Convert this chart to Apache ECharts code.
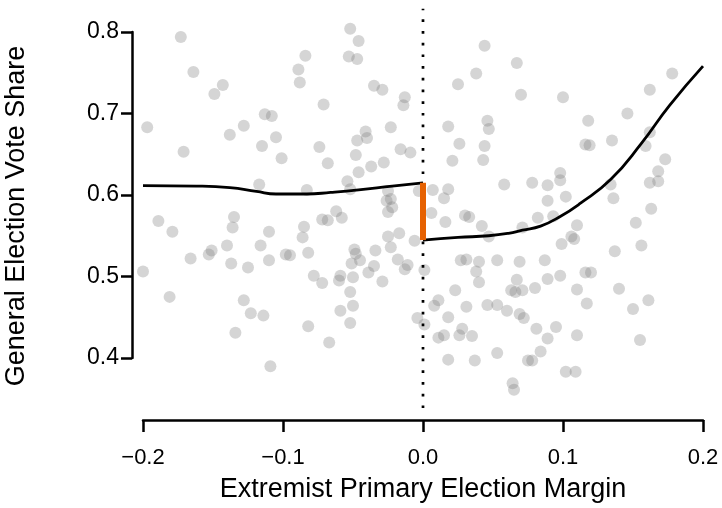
<!DOCTYPE html>
<html>
<head>
<meta charset="utf-8">
<script src="https://cdn.jsdelivr.net/npm/echarts@6/dist/echarts.min.js"></script>
<style>html,body{margin:0;padding:0;background:#fff}#c{width:722px;height:508px}</style>
</head>
<body>
<div id="c"></div>
<script>
// Scatter points (x = extremist primary margin, y = general election vote share)
var pointX = [
-0.173,-0.164,-0.143,-0.149,-0.084,-0.089,-0.088,-0.071,-0.113,-0.108,
-0.197,-0.128,-0.138,-0.105,-0.115,-0.074,-0.052,-0.046,-0.053,-0.047,
-0.035,-0.029,-0.013,-0.014,-0.023,-0.041,-0.047,-0.040,-0.016,0.044,
0.067,0.038,0.025,0.070,0.046,0.047,0.018,0.026,0.044,0.100,
0.118,0.146,0.162,0.178,0.162,0.135,0.116,0.119,0.159,-0.171,
-0.101,-0.068,-0.117,-0.083,-0.189,-0.179,-0.135,-0.136,-0.110,-0.085,
-0.086,-0.072,-0.068,-0.151,-0.153,-0.140,-0.116,-0.166,-0.137,-0.125,
-0.110,-0.098,-0.095,-0.082,-0.200,-0.048,-0.009,-0.028,-0.037,-0.046,
-0.054,-0.052,-0.025,-0.026,-0.023,-0.022,-0.025,-0.003,-0.062,-0.058,
-0.025,-0.017,-0.023,-0.006,-0.049,-0.048,-0.051,-0.045,-0.034,-0.035,
-0.018,-0.011,0.001,0.021,0.043,0.058,0.007,0.018,0.015,0.006,
0.016,0.030,0.033,0.042,0.047,0.071,0.027,0.031,0.040,0.053,
0.069,0.173,0.168,0.168,0.162,0.134,0.136,0.163,0.152,0.156,
0.137,0.098,0.098,0.078,0.089,0.102,0.089,0.082,0.093,0.110,
0.106,0.108,0.099,0.087,0.116,0.120,0.098,-0.181,-0.128,-0.123,
-0.114,-0.134,-0.109,-0.078,-0.072,-0.082,-0.067,-0.059,-0.060,-0.050,
-0.039,-0.029,-0.052,-0.050,-0.059,-0.052,-0.013,-0.004,0.001,0.011,
0.008,0.023,0.031,0.018,0.011,0.015,0.028,0.026,0.035,0.018,
0.037,0.053,0.038,0.040,0.046,0.053,0.060,0.067,0.063,0.066,
0.071,0.069,0.072,0.064,0.065,0.080,0.089,0.110,0.117,0.140,
0.161,0.150,0.155,0.081,0.095,0.089,0.110,0.084,0.075,0.078,
0.102,0.109
];
var pointY = [
0.794,0.751,0.735,0.724,0.771,0.754,0.738,0.711,0.699,0.697,
0.683,0.685,0.674,0.671,0.660,0.659,0.804,0.789,0.770,0.767,
0.734,0.729,0.720,0.710,0.683,0.678,0.667,0.670,0.656,0.783,
0.762,0.749,0.736,0.723,0.691,0.681,0.684,0.663,0.660,0.720,
0.691,0.700,0.729,0.749,0.677,0.667,0.662,0.661,0.660,0.653,
0.645,0.639,0.613,0.606,0.568,0.555,0.573,0.560,0.555,0.561,
0.548,0.570,0.569,0.532,0.527,0.538,0.538,0.522,0.516,0.511,
0.520,0.527,0.526,0.529,0.506,0.649,0.652,0.640,0.635,0.628,
0.617,0.607,0.605,0.593,0.595,0.585,0.579,0.605,0.580,0.572,
0.549,0.553,0.536,0.544,0.533,0.528,0.516,0.520,0.532,0.513,
0.521,0.514,0.508,0.642,0.643,0.613,0.606,0.607,0.596,0.578,
0.567,0.575,0.573,0.562,0.549,0.560,0.520,0.521,0.518,0.520,
0.518,0.644,0.629,0.617,0.615,0.613,0.596,0.583,0.566,0.538,
0.531,0.627,0.618,0.615,0.612,0.598,0.593,0.572,0.574,0.563,
0.549,0.546,0.540,0.520,0.505,0.505,0.501,0.475,0.471,0.455,
0.452,0.431,0.390,0.501,0.492,0.439,0.419,0.501,0.495,0.499,
0.505,0.494,0.481,0.464,0.458,0.443,0.509,0.449,0.441,0.471,
0.464,0.483,0.463,0.450,0.425,0.428,0.436,0.428,0.427,0.398,
0.397,0.406,0.506,0.493,0.465,0.465,0.458,0.496,0.483,0.481,
0.483,0.454,0.449,0.369,0.361,0.486,0.497,0.484,0.467,0.485,
0.471,0.460,0.422,0.436,0.438,0.424,0.428,0.408,0.397,0.397,
0.383,0.383
];
// Local fit below the threshold (x < 0)
var leftFitX = [-0.2, -0.162, -0.138, -0.119, -0.105, -0.083, -0.066, -0.046, -0.022, 0];
var leftFitY = [0.6115, 0.611, 0.6091, 0.6044, 0.6012, 0.6012, 0.6032, 0.6063, 0.611, 0.615];
// Local fit above the threshold (x > 0)
var rightFitX = [0, 0.025, 0.047, 0.061, 0.071, 0.084, 0.098, 0.112, 0.134, 0.156, 0.176, 0.2];
var rightFitY = [0.5447, 0.5479, 0.55, 0.553, 0.5568, 0.5618, 0.5736, 0.5893, 0.6189, 0.6633, 0.7097, 0.7582];
// Discontinuity at the threshold
var jumpX = [0, 0];
var jumpY = [0.5447, 0.615];
// Dotted threshold line
var cutX = [0, 0];
var cutY = [0.3385, 0.8284];
// Tick labels and titles
var xTickLabels = ['\u22120.2', '\u22120.1', '0.0', '0.1', '0.2'];
var yTickLabels = ['0.4', '0.5', '0.6', '0.7', '0.8'];
var xTitle = 'Extremist Primary Election Margin';
var yTitle = 'General Election Vote Share';

function zip(a, b) { return a.map(function (v, i) { return [v, b[i]]; }); }

var FONT = '"Liberation Sans", Arial, Helvetica, sans-serif';
var chart = echarts.init(document.getElementById('c'), null, { renderer: 'canvas' });
chart.setOption({
  animation: false,
  backgroundColor: '#ffffff',
  grid: { left: 143, right: 19, top: 32, bottom: 138, containLabel: false },
  xAxis: {
    type: 'value', min: -0.2, max: 0.2, interval: 0.1,
    position: 'bottom', offset: 62,
    axisLine: { show: true, onZero: false, lineStyle: { color: '#000', width: 2.5 } },
    axisTick: { show: true, inside: false, length: 12, lineStyle: { color: '#000', width: 2.5 } },
    splitLine: { show: false },
    axisLabel: {
      color: '#000', fontSize: 22, fontFamily: FONT, margin: 27,
      formatter: function (v) { return xTickLabels[Math.round((v + 0.2) / 0.1)]; }
    },
    name: xTitle, nameLocation: 'middle', nameGap: 56,
    nameTextStyle: { color: '#000', fontSize: 27, fontFamily: FONT }
  },
  yAxis: {
    type: 'value', min: 0.4, max: 0.8, interval: 0.1,
    position: 'left', offset: 11,
    axisLine: { show: true, onZero: false, lineStyle: { color: '#000', width: 2.5 } },
    axisTick: { show: true, inside: false, length: 11, lineStyle: { color: '#000', width: 2.5 } },
    splitLine: { show: false },
    axisLabel: {
      color: '#000', fontSize: 23, fontFamily: FONT, margin: 13,
      formatter: function (v) { return yTickLabels[Math.round((v - 0.4) / 0.1)]; }
    }
  },
  graphic: [{
    type: 'text', x: 17, y: 216, rotation: Math.PI / 2, silent: true,
    style: { text: yTitle, fill: '#000', font: '27px ' + FONT, align: 'center', verticalAlign: 'middle' }
  }],
  series: [
    {
      type: 'scatter', data: zip(pointX, pointY), symbol: 'circle', symbolSize: 12,
      clip: false, silent: true,
      itemStyle: { color: 'rgba(125,125,125,0.4)', borderWidth: 0 }
    },
    {
      type: 'line', data: zip(cutX, cutY), symbol: 'none', clip: false, silent: true,
      lineStyle: { color: '#000', width: 2.7, type: [2.7, 9], cap: 'butt' }
    },
    {
      type: 'line', data: zip(leftFitX, leftFitY), symbol: 'none', smooth: 0.5, clip: false, silent: true,
      lineStyle: { color: '#000', width: 2.8 }
    },
    {
      type: 'line', data: zip(rightFitX, rightFitY), symbol: 'none', smooth: 0.5, clip: false, silent: true,
      lineStyle: { color: '#000', width: 2.8 }
    },
    {
      type: 'line', data: zip(jumpX, jumpY), symbol: 'none', clip: false, silent: true,
      lineStyle: { color: '#e66101', width: 6, cap: 'butt' }
    }
  ]
});
</script>
</body>
</html>
